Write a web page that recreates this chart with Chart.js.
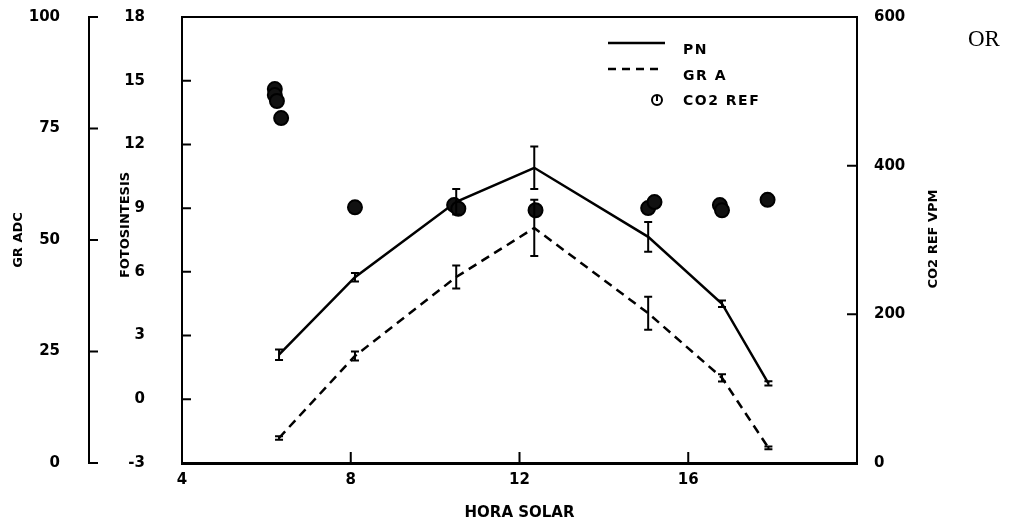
<!DOCTYPE html>
<html>
<head>
<meta charset="utf-8">
<script src="https://cdn.jsdelivr.net/npm/chart.js@4.4.1/dist/chart.umd.min.js"></script>
<style>
  html, body { margin: 0; padding: 0; background: #fff; }
  #wrap { width: 1013px; height: 523px; }
</style>
</head>
<body>
<div id="wrap"><canvas id="grafico" width="1013" height="523"></canvas></div>
<script>
// hora solar de cada medida
const horas = [6.3, 8.1, 10.5, 12.35, 15.05, 16.8, 17.9];
// fotosintesis neta (PN) y su error
const pn = [2.1, 5.75, 9.3, 10.9, 7.65, 4.5, 0.75];
const pnErr = [0.25, 0.2, 0.6, 1.0, 0.7, 0.15, 0.1];
// GR A (eje GR ADC) y su error
const grA = [5.6, 24.0, 41.7, 52.7, 33.6, 19.1, 3.4];
const grAErr = [0.4, 1.0, 2.6, 6.3, 3.7, 0.8, 0.3];
// CO2 de referencia (vpm)
const co2Horas = [6.2, 6.2, 6.25, 6.35, 8.1, 10.45, 10.55, 12.38, 15.05, 15.2, 16.75, 16.8, 17.88];
const co2Ref = [503, 495, 487, 464, 344, 347, 342, 340, 343, 351, 347, 340, 354];

const FUENTE = '"DejaVu Sans", sans-serif';

function puntos(xs, ys) {
  return xs.map((x, i) => ({ x: x, y: ys[i] }));
}

// barras de error dibujadas con las escalas del grafico
const errorBars = {
  id: 'errorBars',
  afterDatasetsDraw(chart) {
    const ctx = chart.ctx;
    chart.data.datasets.forEach((ds) => {
      if (!ds.errors) return;
      const xs = chart.scales.x;
      const ys = chart.scales[ds.yAxisID];
      ctx.save();
      ctx.strokeStyle = '#000';
      ctx.lineWidth = 2;
      ds.data.forEach((p, j) => {
        const e = ds.errors[j];
        const x = xs.getPixelForValue(p.x);
        const y1 = ys.getPixelForValue(p.y + e);
        const y2 = ys.getPixelForValue(p.y - e);
        ctx.beginPath();
        ctx.moveTo(x, y1); ctx.lineTo(x, y2);
        ctx.moveTo(x - 4, y1); ctx.lineTo(x + 4, y1);
        ctx.moveTo(x - 4, y2); ctx.lineTo(x + 4, y2);
        ctx.stroke();
      });
      ctx.restore();
    });
  }
};

// marcas de los ejes hacia dentro
const marcas = {
  id: 'marcas',
  afterDraw(chart) {
    const ctx = chart.ctx;
    ctx.save();
    ctx.strokeStyle = '#000';
    ctx.lineWidth = 2;
    ctx.beginPath();
    Object.values(chart.scales).forEach((s) => {
      s.ticks.forEach((t) => {
        const p = s.getPixelForValue(t.value);
        if (s.position === 'left') { ctx.moveTo(s.right, p); ctx.lineTo(s.right + 9, p); }
        if (s.position === 'right') { ctx.moveTo(s.left, p); ctx.lineTo(s.left - 10, p); }
        if (s.position === 'bottom') { ctx.moveTo(p, s.top); ctx.lineTo(p, s.top - 11); }
      });
    });
    ctx.stroke();
    ctx.restore();
  }
};

// marco superior, leyenda y textos sueltos
const extras = {
  id: 'extras',
  afterDraw(chart) {
    const ctx = chart.ctx;
    const a = chart.chartArea;
    const ds = chart.data.datasets;
    ctx.save();
    ctx.strokeStyle = '#000';
    ctx.fillStyle = '#000';
    ctx.lineWidth = 2;
    ctx.beginPath();
    ctx.moveTo(a.left, a.top); ctx.lineTo(a.right, a.top);
    ctx.stroke();

    // leyenda
    ctx.font = 'bold 14px ' + FUENTE;
    ctx.textBaseline = 'middle';
    ctx.letterSpacing = '1.5px';
    ctx.lineWidth = 2.5;
    ctx.beginPath(); ctx.moveTo(608, 43); ctx.lineTo(665, 43); ctx.stroke();
    ctx.fillText(ds[0].label, 683, 50);
    ctx.setLineDash([8, 6]);
    ctx.beginPath(); ctx.moveTo(608, 69); ctx.lineTo(662, 69); ctx.stroke();
    ctx.setLineDash([]);
    ctx.fillText(ds[1].label, 683, 76);
    ctx.lineWidth = 2;
    ctx.beginPath(); ctx.arc(657, 100, 5, 0, 2 * Math.PI); ctx.stroke();
    ctx.beginPath(); ctx.moveTo(657, 96); ctx.lineTo(657, 101); ctx.stroke();
    ctx.fillText(ds[2].label, 683, 101);

    // titulos verticales
    ctx.letterSpacing = '0px';
    ctx.font = 'bold 13px ' + FUENTE;
    ctx.textAlign = 'center';
    ctx.save();
    ctx.translate(126, 225);
    ctx.rotate(-Math.PI / 2);
    ctx.fillText('FOTOSINTESIS', 0, 0);
    ctx.restore();
    ctx.save();
    ctx.translate(934, 239);
    ctx.rotate(-Math.PI / 2);
    ctx.fillText('CO2 REF VPM', 0, 0);
    ctx.restore();

    ctx.font = '23px "Liberation Serif", serif';
    ctx.textAlign = 'left';
    ctx.fillText('OR', 968, 40);
    ctx.restore();
  }
};

const tickFont = { family: FUENTE, size: 15, weight: 'bold' };

// anchos fijos de los ejes, sin relleno extra
function ejeV(ancho) {
  return (s) => { s.width = ancho; s.paddingTop = 0; s.paddingBottom = 0; };
}

new Chart(document.getElementById('grafico').getContext('2d'), {
  type: 'line',
  data: {
    datasets: [
      {
        label: 'PN',
        data: puntos(horas, pn),
        errors: pnErr,
        yAxisID: 'yFot',
        borderColor: '#000',
        borderWidth: 2.5,
        pointRadius: 0,
        fill: false,
        tension: 0,
        order: 2
      },
      {
        label: 'GR A',
        data: puntos(horas, grA),
        errors: grAErr,
        yAxisID: 'yGr',
        borderColor: '#000',
        borderWidth: 2.5,
        borderDash: [9, 6],
        pointRadius: 0,
        fill: false,
        tension: 0,
        order: 2
      },
      {
        label: 'CO2 REF',
        data: puntos(co2Horas, co2Ref),
        yAxisID: 'yCo2',
        showLine: false,
        pointRadius: 7,
        pointBorderWidth: 2,
        backgroundColor: '#111',
        borderColor: '#000',
        order: 1
      }
    ]
  },
  options: {
    responsive: false,
    animation: false,
    layout: { padding: { top: 17, left: 0, right: 0, bottom: 0 } },
    plugins: {
      legend: { display: false },
      tooltip: { enabled: false }
    },
    scales: {
      x: {
        type: 'linear',
        position: 'bottom',
        min: 4,
        max: 20,
        afterFit: (s) => { s.height = 60; s.paddingLeft = 0; s.paddingRight = 0; },
        border: { display: true, color: '#000', width: 3 },
        grid: { display: false },
        ticks: {
          stepSize: 4,
          autoSkip: false,
          maxRotation: 0,
          padding: 0,
          color: '#000',
          font: tickFont,
          callback: (v) => (v === 20 ? '' : v)
        },
        title: {
          display: true,
          text: 'HORA SOLAR',
          color: '#000',
          font: tickFont,
          padding: { top: 0, bottom: 1 }
        }
      },
      yFot: {
        position: 'left',
        weight: 0,
        min: -3,
        max: 18,
        afterFit: ejeV(93),
        border: { display: true, color: '#000', width: 2 },
        grid: { display: false },
        ticks: { stepSize: 3, padding: 29, color: '#000', font: tickFont }
      },
      yGr: {
        position: 'left',
        weight: 1,
        min: 0,
        max: 100,
        afterFit: ejeV(89),
        border: { display: true, color: '#000', width: 2 },
        grid: { display: false },
        ticks: { stepSize: 25, padding: 21, color: '#000', font: tickFont },
        title: {
          display: true,
          text: 'GR ADC',
          color: '#000',
          font: { family: FUENTE, size: 13, weight: 'bold' },
          padding: { top: 10.5, bottom: 0 }
        }
      },
      yCo2: {
        position: 'right',
        min: 0,
        max: 600,
        afterFit: ejeV(156),
        border: { display: true, color: '#000', width: 2 },
        grid: { display: false },
        ticks: { stepSize: 200, padding: 9, color: '#000', font: tickFont }
      }
    }
  },
  plugins: [errorBars, marcas, extras]
});
</script>
</body>
</html>
